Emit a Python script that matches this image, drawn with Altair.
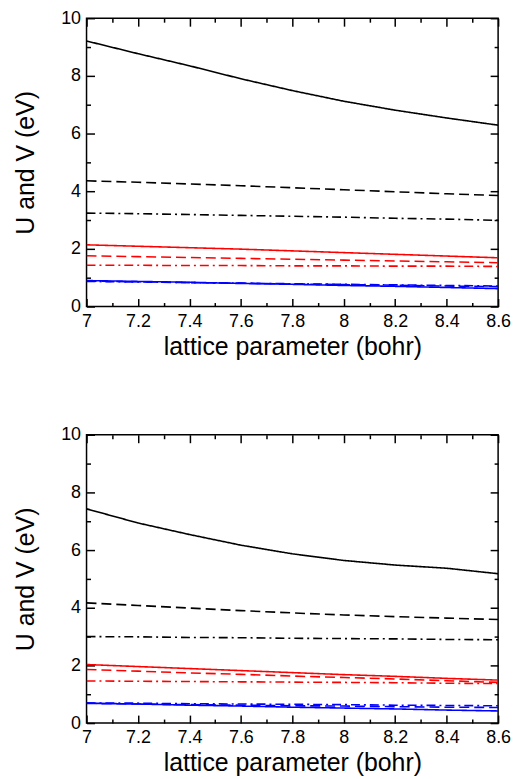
import altair as alt
import pandas as pd

x_vals = [7.0, 7.2, 7.4, 7.6, 7.8, 8.0, 8.2, 8.4, 8.6]

# top panel
top_black_solid = [9.21, 8.77, 8.35, 7.90, 7.49, 7.12, 6.81, 6.54, 6.29]
top_black_dashed = [4.36, 4.31, 4.25, 4.19, 4.12, 4.05, 3.98, 3.91, 3.85]
top_black_dashdot = [3.24, 3.22, 3.19, 3.16, 3.13, 3.10, 3.06, 3.03, 2.99]
top_red_solid = [2.14, 2.09, 2.04, 1.99, 1.93, 1.87, 1.81, 1.75, 1.69]
top_red_dashed = [1.76, 1.73, 1.70, 1.67, 1.64, 1.61, 1.58, 1.55, 1.52]
top_red_dashdot = [1.43, 1.43, 1.42, 1.42, 1.41, 1.41, 1.40, 1.40, 1.39]
top_blue_solid = [0.90, 0.87, 0.84, 0.80, 0.77, 0.73, 0.70, 0.66, 0.62]
top_blue_dashed = [0.88, 0.86, 0.83, 0.81, 0.78, 0.76, 0.74, 0.71, 0.69]
top_blue_dashdot = [0.87, 0.85, 0.83, 0.81, 0.79, 0.77, 0.75, 0.73, 0.71]

# bottom panel
bot_black_solid = [7.43, 6.94, 6.54, 6.17, 5.87, 5.64, 5.48, 5.37, 5.18]
bot_black_dashed = [4.17, 4.08, 3.99, 3.90, 3.82, 3.75, 3.69, 3.64, 3.59]
bot_black_dashdot = [3.00, 2.99, 2.97, 2.96, 2.94, 2.93, 2.92, 2.90, 2.89]
bot_red_solid = [2.03, 1.96, 1.89, 1.82, 1.75, 1.68, 1.62, 1.55, 1.49]
bot_red_dashed = [1.86, 1.80, 1.74, 1.69, 1.63, 1.58, 1.53, 1.47, 1.41]
bot_red_dashdot = [1.46, 1.45, 1.44, 1.43, 1.42, 1.41, 1.40, 1.38, 1.37]
bot_blue_solid = [0.69, 0.66, 0.62, 0.59, 0.55, 0.52, 0.49, 0.45, 0.42]
bot_blue_dashed = [0.68, 0.66, 0.64, 0.62, 0.60, 0.59, 0.57, 0.55, 0.54]
bot_blue_dashdot = [0.70, 0.69, 0.67, 0.66, 0.65, 0.64, 0.62, 0.61, 0.60]

x_major = [7.0, 7.2, 7.4, 7.6, 7.8, 8.0, 8.2, 8.4, 8.6]
x_minor = [7.1, 7.3, 7.5, 7.7, 7.9, 8.1, 8.3, 8.5]
y_major = [0, 2, 4, 6, 8, 10]
y_minor = [1, 3, 5, 7, 9]

colors = ["black", "red", "blue"]
color_range = ["#000000", "#ff0000", "#0000ff"]
dashes = ["solid", "dashed", "dashdot"]
dash_range = [[1, 0], [10, 5], [9, 4, 2, 4]]

XTITLE = "lattice parameter (bohr)"
YTITLE = "U and V (eV)"
FONT = "Liberation Sans"


def build_df(series):
    rows = []
    for (c, d), vals in series.items():
        for xv, yv in zip(x_vals, vals):
            rows.append({"x": xv, "y": yv, "col": c, "dash": d, "series": f"{c}-{d}"})
    return pd.DataFrame(rows)


top_df = build_df({
    ("black", "solid"): top_black_solid,
    ("black", "dashed"): top_black_dashed,
    ("black", "dashdot"): top_black_dashdot,
    ("red", "solid"): top_red_solid,
    ("red", "dashed"): top_red_dashed,
    ("red", "dashdot"): top_red_dashdot,
    ("blue", "dashed"): top_blue_dashed,
    ("blue", "dashdot"): top_blue_dashdot,
    ("blue", "solid"): top_blue_solid,
})
bot_df = build_df({
    ("black", "solid"): bot_black_solid,
    ("black", "dashed"): bot_black_dashed,
    ("black", "dashdot"): bot_black_dashdot,
    ("red", "solid"): bot_red_solid,
    ("red", "dashed"): bot_red_dashed,
    ("red", "dashdot"): bot_red_dashdot,
    ("blue", "dashed"): bot_blue_dashed,
    ("blue", "dashdot"): bot_blue_dashdot,
    ("blue", "solid"): bot_blue_solid,
})

xs = alt.Scale(domain=[7, 8.6], nice=False, zero=False)
ys = alt.Scale(domain=[0, 10], nice=False, zero=False)


def tick_axis(orient, values, size):
    return alt.Axis(orient=orient, values=values, tickSize=size, offset=-size,
                    labels=False, domain=False, grid=False, title=None,
                    ticks=True, tickColor="black", tickWidth=1.5)


def panel(df):
    lines = alt.Chart(df).mark_line(strokeWidth=1.6, clip=True).encode(
        x=alt.X("x:Q", scale=xs, axis=alt.Axis(
            values=x_major, labelExpr="format(datum.value, '~g')", ticks=False,
            domain=False, grid=False, title=XTITLE, labelFontSize=18,
            titleFontSize=25, labelPadding=6, titlePadding=4,
            labelColor="black", titleColor="black", labelFont=FONT,
            titleFont=FONT, titleFontWeight="normal", labelFlush=False)),
        y=alt.Y("y:Q", scale=ys, axis=alt.Axis(
            values=y_major, ticks=False, domain=False, grid=False,
            title=YTITLE, labelFontSize=18, titleFontSize=25, labelPadding=6,
            titlePadding=22, labelColor="black", titleColor="black",
            labelFont=FONT, titleFont=FONT, titleFontWeight="normal")),
        color=alt.Color("col:N", scale=alt.Scale(domain=colors, range=color_range), legend=None),
        strokeDash=alt.StrokeDash("dash:N", scale=alt.Scale(domain=dashes, range=dash_range), legend=None),
        detail="series:N",
    )

    def ticks(xo, yo, xv, yv, size):
        return alt.Chart(df).mark_point(opacity=0).encode(
            x=alt.X("x:Q", scale=xs, axis=tick_axis(xo, xv, size)),
            y=alt.Y("y:Q", scale=ys, axis=tick_axis(yo, yv, size)),
        )

    layers = [
        lines,
        ticks("bottom", "left", x_major, y_major, 8),
        ticks("bottom", "left", x_minor, y_minor, 4),
        ticks("top", "right", x_major, y_major, 8),
        ticks("top", "right", x_minor, y_minor, 4),
    ]
    return alt.layer(*layers).resolve_axis(x="independent", y="independent").properties(
        width=414, height=290)


chart = alt.vconcat(panel(top_df), panel(bot_df), spacing=65).configure_view(
    stroke="black", strokeWidth=1.5
).properties(padding={"left": 5, "top": -2, "right": 5, "bottom": 0})

chart.save("out.html", embed_options={"renderer": "svg", "actions": False})
